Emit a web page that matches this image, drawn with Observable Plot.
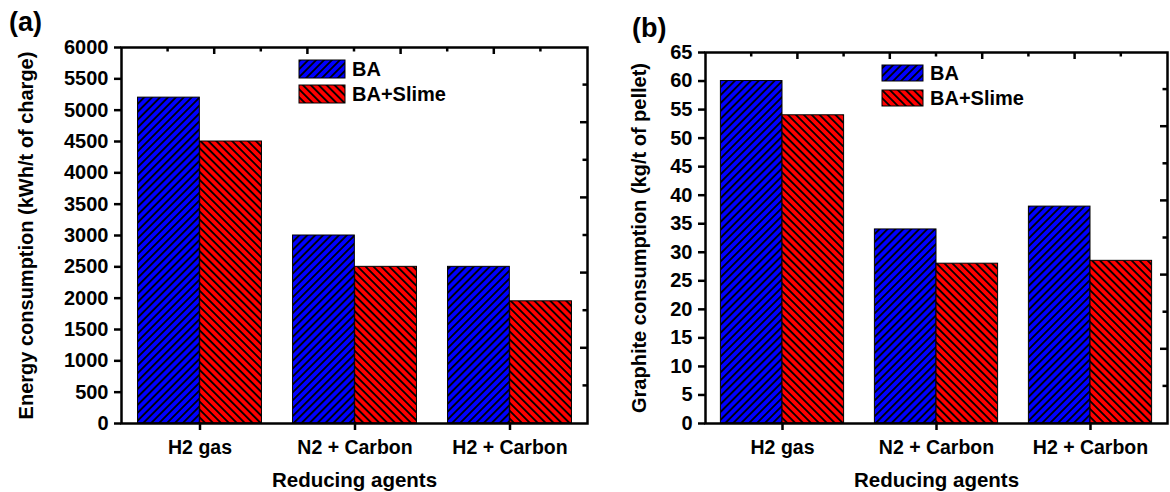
<!DOCTYPE html>
<html><head><meta charset="utf-8">
<script src="https://cdn.jsdelivr.net/npm/d3@7"></script>
<script src="https://cdn.jsdelivr.net/npm/@observablehq/plot@0.6"></script>
<style>
body{margin:0;background:#fff;font-family:"Liberation Sans",Arial,sans-serif;}
#wrap{position:relative;width:1170px;height:492px;display:flex;overflow:hidden;}
</style></head><body>
<svg width="0" height="0" style="position:absolute"><defs>
<pattern id="hatchBA" patternUnits="userSpaceOnUse" width="5.6" height="10" patternTransform="rotate(45)">
<rect width="5.6" height="10" fill="#0000ff"/><line x1="2.8" y1="0" x2="2.8" y2="10" stroke="#000" stroke-width="1.8"/></pattern>
<pattern id="hatchSlime" patternUnits="userSpaceOnUse" width="5.6" height="10" patternTransform="rotate(-45)">
<rect width="5.6" height="10" fill="#ff0000"/><line x1="2.8" y1="0" x2="2.8" y2="10" stroke="#000" stroke-width="1.8"/></pattern>
</defs></svg>
<div id="wrap"><div id="pa"></div><div id="pb"></div></div>
<script>
// ---- data ----
const categories = ["H2 gas", "N2 + Carbon", "H2 + Carbon"];
const series = ["BA", "BA+Slime"];
const energyBA = [5200, 3000, 2500];
const energySlime = [4500, 2500, 1950];
const graphiteBA = [60, 34, 38];
const graphiteSlime = [54, 28, 28.5];
const energyTicks = [0, 500, 1000, 1500, 2000, 2500, 3000, 3500, 4000, 4500, 5000, 5500, 6000];
const graphiteTicks = [0, 5, 10, 15, 20, 25, 30, 35, 40, 45, 50, 55, 60, 65];
const xTitle = "Reducing agents";
const energyTitle = "Energy consumption (kWh/t of charge)";
const graphiteTitle = "Graphite consumption (kg/t of pellet)";
const fills = {"BA": "url(#hatchBA)", "BA+Slime": "url(#hatchSlime)"};
const FONT = '"Liberation Sans", Arial, sans-serif';

function makePanel(o) {
  const rows = [];
  categories.forEach((c, i) => {
    rows.push({category: c, series: series[0], value: o.s1[i]});
    rows.push({category: c, series: series[1], value: o.s2[i]});
  });
  const W = o.width, H = 492, mB = 69;
  const bw = (W - o.mL - o.mR) / categories.length;
  const plot = Plot.plot({
    width: W, height: H,
    marginLeft: o.mL, marginRight: o.mR, marginTop: o.mT, marginBottom: mB,
    style: {fontFamily: FONT, fontWeight: "bold", fontSize: "20px", color: "#000", background: "transparent", overflow: "visible"},
    x: {domain: categories, padding: 0, label: null},
    y: {domain: [0, o.yMax], label: null},
    marks: [
      Plot.barY(rows.filter(d => d.series === series[0]), {x: "category", y: "value", fill: fills[series[0]], stroke: "#000", strokeWidth: 1, insetLeft: 0.1 * bw, insetRight: 0.5 * bw}),
      Plot.barY(rows.filter(d => d.series === series[1]), {x: "category", y: "value", fill: fills[series[1]], stroke: "#000", strokeWidth: 1, insetLeft: 0.5 * bw, insetRight: 0.1 * bw}),
      Plot.frame({stroke: "#000", strokeWidth: 2.5}),
      Plot.axisY({ticks: o.ticks, tickFormat: d => String(d), tickSize: 7, tickPadding: 6, strokeWidth: 2.5, fontSize: 20, label: null}),
      Plot.axisX({tickSize: 7, tickPadding: 10, strokeWidth: 2.5, fontSize: 19.5, label: null}),
      Plot.text([o.yTitle], {frameAnchor: "left", rotate: -90, dx: o.yTitleDx, fontSize: 20, fontWeight: "bold", lineAnchor: "middle", textAnchor: "middle"}),
      Plot.text([xTitle], {frameAnchor: "bottom", dy: 57, fontSize: 20.5, fontWeight: "bold", lineAnchor: "middle"})
    ]
  });
  const svg = d3.select(plot.tagName === "svg" ? plot : plot.querySelector("svg"));
  const x0 = o.mL, x1 = W - o.mR, y0 = o.mT, y1 = H - mB;
  const g = svg.append("g").attr("stroke", "#000").attr("stroke-width", 2.5);
  for (let k = 1; k < 10; k++) {
    const len = k % 2 === 0 ? 7 : 4.5;
    const tx = x0 + (x1 - x0) * k / 10;
    g.append("line").attr("x1", tx).attr("x2", tx).attr("y1", y0).attr("y2", y0 + len);
    const ty = y1 - (y1 - y0) * k / 10;
    g.append("line").attr("x1", x1).attr("x2", x1 - len).attr("y1", ty).attr("y2", ty);
  }
  // legend
  const lg = svg.append("g").attr("font-family", FONT).attr("font-weight", "bold").attr("font-size", 20).attr("text-anchor", "start");
  series.forEach((s, i) => {
    const ly = o.legY + i * o.legGap;
    lg.append("rect").attr("x", o.legX).attr("y", ly).attr("width", o.swW).attr("height", o.swH)
      .attr("fill", fills[s]).attr("stroke", "#000").attr("stroke-width", 1);
    lg.append("text").attr("x", o.legX + o.swW + 7).attr("y", ly + o.swH / 2).attr("dy", "0.36em").text(s);
  });
  svg.append("text").attr("x", o.tagX).attr("y", o.tagY).attr("font-family", FONT).attr("font-weight", "bold")
    .attr("text-anchor", "start").attr("font-size", 27).text(o.tag);
  return plot;
}

document.getElementById("pa").appendChild(makePanel({
  width: 590, mL: 121, mR: 3, mT: 47, yMax: 6000, s1: energyBA, s2: energySlime, ticks: energyTicks,
  yTitle: energyTitle, yTitleDx: -95, legX: 299, legY: 60, legGap: 25, swW: 46, swH: 18, tag: "(a)", tagX: 9, tagY: 31
}));
document.getElementById("pb").appendChild(makePanel({
  width: 580, mL: 115, mR: 3, mT: 52, yMax: 65, s1: graphiteBA, s2: graphiteSlime, ticks: graphiteTicks,
  yTitle: graphiteTitle, yTitleDx: -66, legX: 292, legY: 65, legGap: 25, swW: 41, swH: 16, tag: "(b)", tagX: 42, tagY: 37
}));
</script>
</body></html>
